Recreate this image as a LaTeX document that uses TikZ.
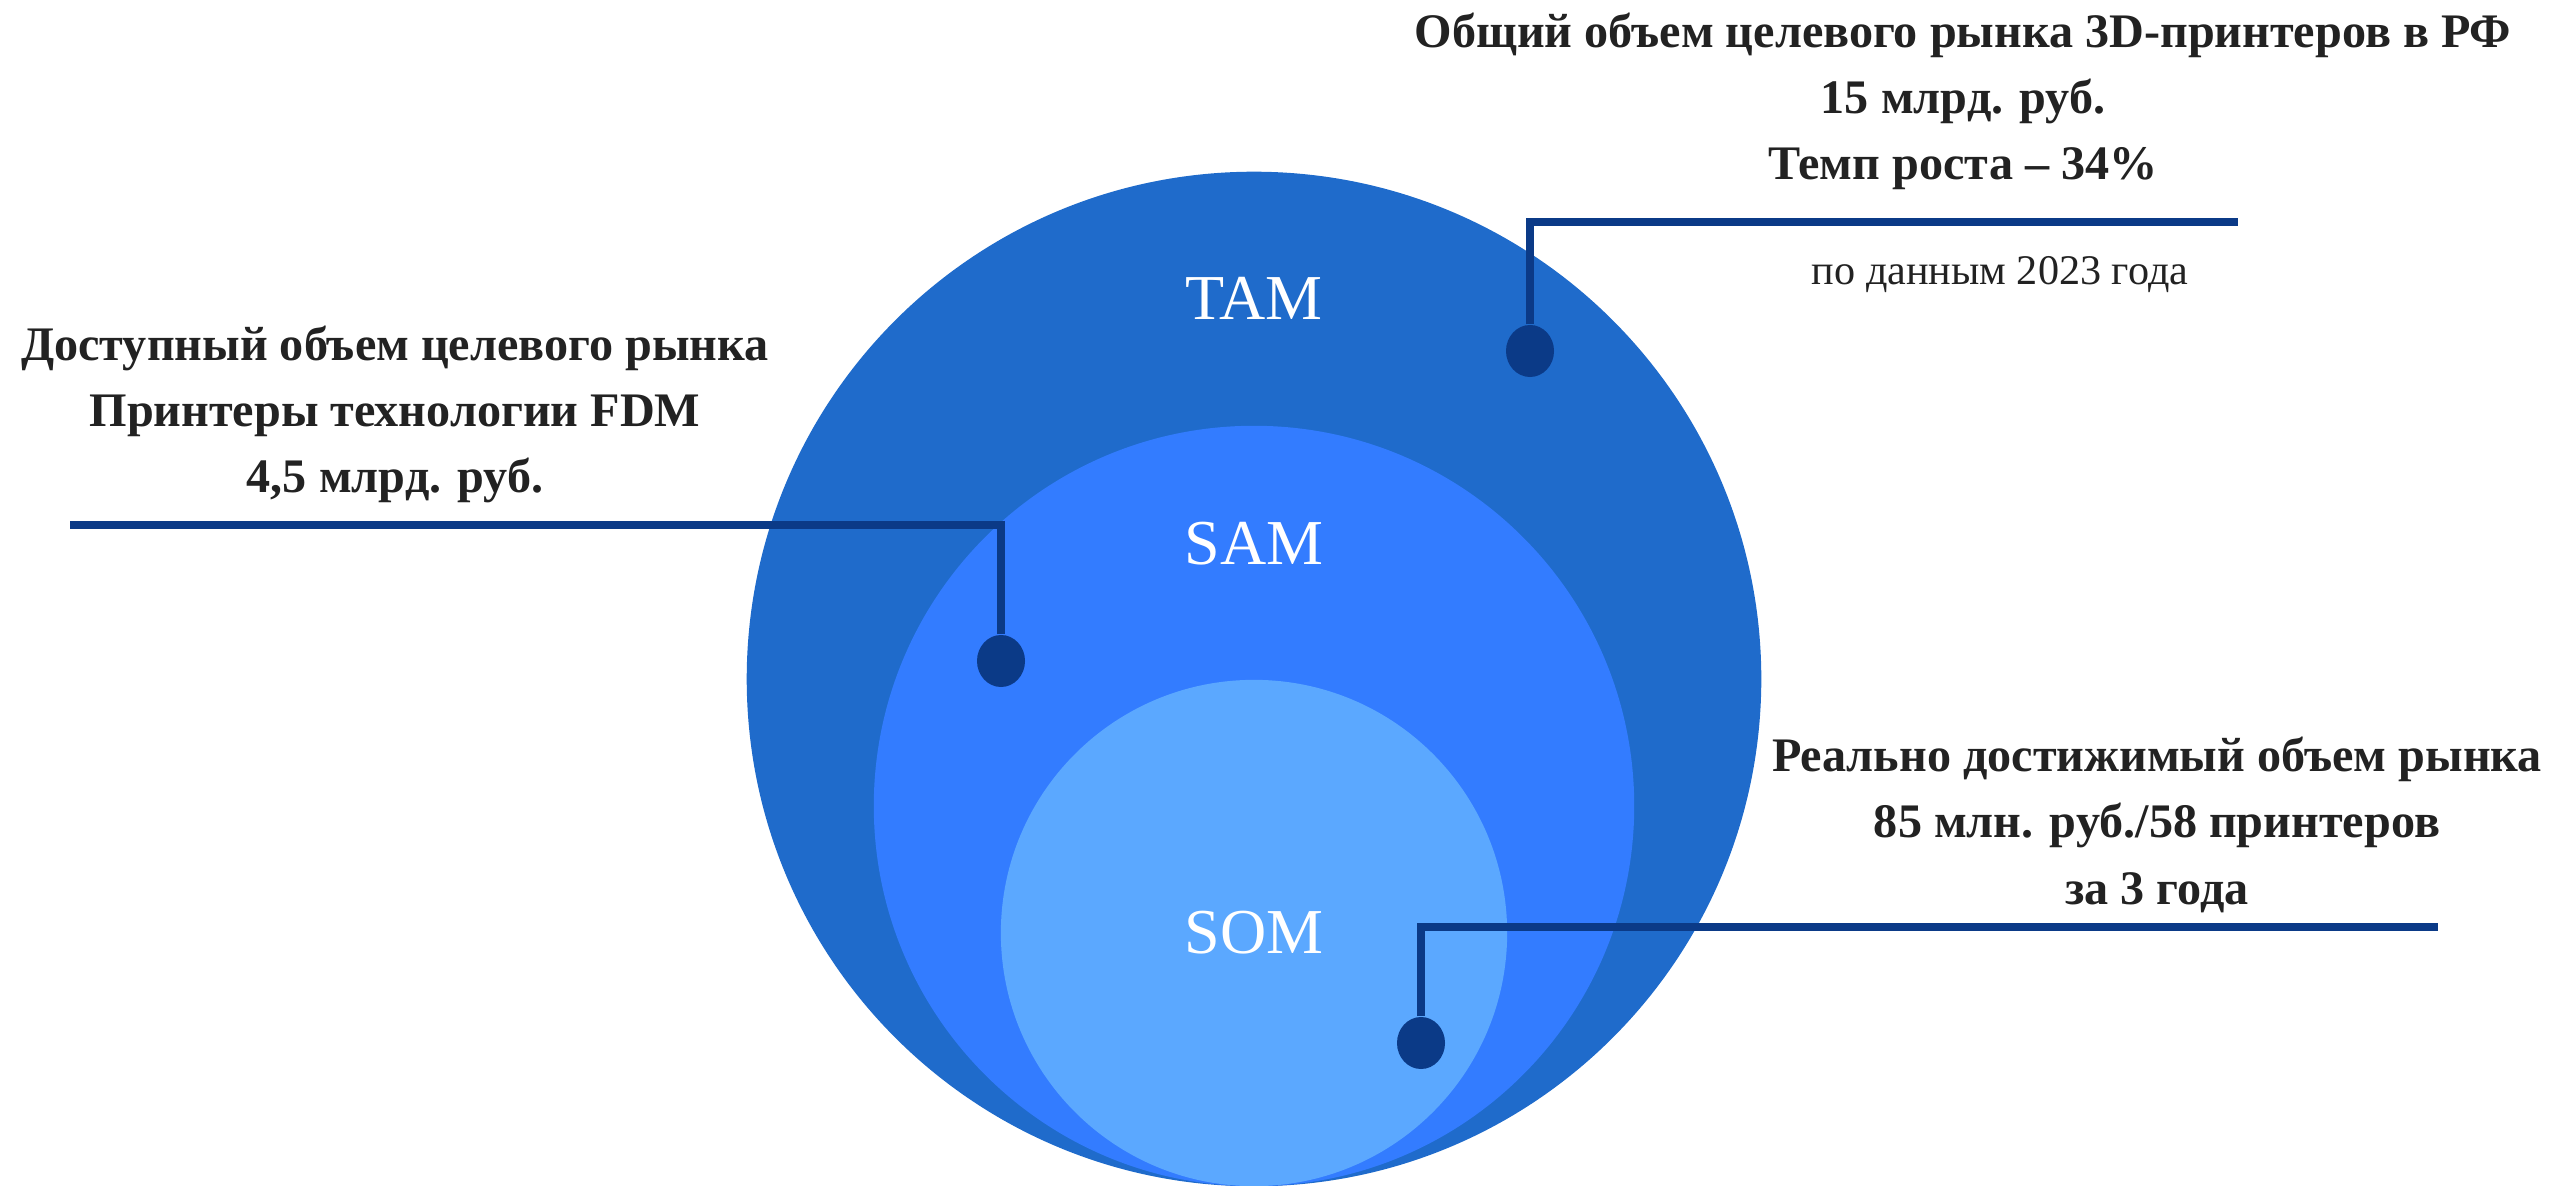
\documentclass[tikz,border=0pt]{standalone}
\usepackage{fontspec}
\setmainfont{Liberation Serif}
\usepackage{xcolor}
\usetikzlibrary{
    shapes.geometric,
    positioning
}
\definecolor{tamblue}{RGB}{31,107,203}
\definecolor{samblue}{RGB}{51,124,255}
\definecolor{somblue}{RGB}{91,168,255}
\definecolor{navy}{RGB}{11,58,135}
\definecolor{inkgray}{RGB}{34,34,34}
\tikzset{
    market/.style={circle, inner sep=0pt},
    marketlabel/.style={anchor=base, text=white, font=\fontsize{18.2}{22}\selectfont},
    leader/.style={draw=navy, line width=0.08cm},
    pin/.style={ellipse, fill=navy, minimum width=0.48cm, minimum height=0.52cm, inner sep=0pt},
    note/.style={anchor=base, align=center, text=inkgray, inner sep=0pt,
        font=\bfseries\fontsize{13.7}{18.8}\selectfont}
}

\begin{document}
\begin{tikzpicture}[x=0.01cm, y=-0.01cm]
    \useasboundingbox (0,0) rectangle (2558,1186);

    % nested market circles
    \node[market, fill=tamblue, minimum size=10.14cm] (tam) at (1254,679) {};
    \node[market, fill=samblue, minimum size=7.6cm] (sam) at (1254,806) {};
    \node[market, fill=somblue, minimum size=5.06cm] (som) at (1254,933) {};

    \node[marketlabel] (tamlabel) at (1254,320) {TAM};
    \node[marketlabel] (samlabel) at (1254,565) {SAM};
    \node[marketlabel] (somlabel) at (1254,953) {SOM};

    % leader lines
    \coordinate (tamend) at (2238,222);
    \coordinate (samend) at (70,525);
    \coordinate (somend) at (2438,927);
    \node[pin] (tampin) at (1530,351) {};
    \node[pin] (sampin) at (1001,661) {};
    \node[pin] (sompin) at (1421,1043) {};
    \draw[leader] (tampin.north) |- (tamend);
    \draw[leader] (sampin.north) |- (samend);
    \draw[leader] (sompin.north) |- (somend);

    % notes (base = last line)
    \node[note] (tamnote) at (1963,180)
        {Общий объем целевого рынка 3D-принтеров в РФ\\15 млрд. руб.\\Темп роста – 34\%};
    \node[anchor=base, text=inkgray, inner sep=0pt, font=\fontsize{12}{14}\selectfont]
        (source) at (2000,285) {по данным 2023 года};
    \node[note] (samnote) at (395,493)
        {Доступный объем целевого рынка\\Принтеры технологии FDM\\4,5 млрд. руб.};
    \node[note] (somnote) at (2157,904)
        {Реально достижимый объем рынка\\85 млн. руб./58 принтеров\\за 3 года};
\end{tikzpicture}
\end{document}
